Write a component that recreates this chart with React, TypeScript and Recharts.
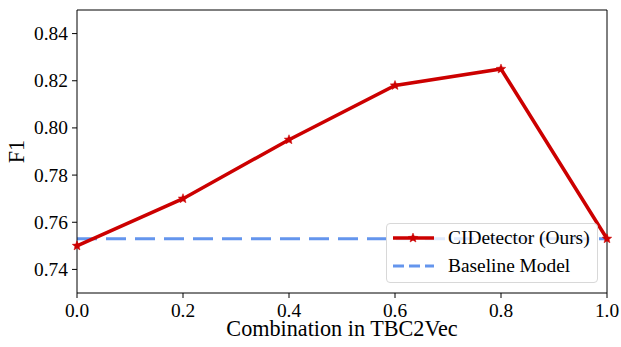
import React from 'react';
import { LineChart, Line, XAxis, YAxis, ReferenceLine } from 'recharts';

const combos = [0, 0.2, 0.4, 0.6, 0.8, 1.0];
const cidetector = [0.75, 0.77, 0.795, 0.818, 0.825, 0.753];
const baseline = [0.753, 0.753, 0.753, 0.753, 0.753, 0.753];
const xTicks = [0, 0.2, 0.4, 0.6, 0.8, 1.0];
const yTicks = [0.74, 0.76, 0.78, 0.8, 0.82, 0.84];

const data = combos.map((c, i) => ({ c, ours: cidetector[i], base: baseline[i] }));

const FONT = '"Liberation Serif", "Times New Roman", serif';
const RED = '#cc0000';
const BLUE = '#6495ed';

function Star({ cx, cy }: { cx?: number; cy?: number }) {
  if (cx == null || cy == null) return null;
  const pts: string[] = [];
  for (let i = 0; i < 10; i++) {
    const r = i % 2 === 0 ? 5 : 2.2;
    const a = -Math.PI / 2 + (i * Math.PI) / 5;
    pts.push(`${cx + r * Math.cos(a)},${cy + r * Math.sin(a)}`);
  }
  return <polygon points={pts.join(' ')} fill={RED} stroke={RED} strokeWidth={0.5} />;
}

function XTick({ x, y, payload }: any) {
  return (
    <text x={x} y={y + 13} textAnchor="middle" fontFamily={FONT} fontSize={19.4} fill="#000">
      {Number(payload.value).toFixed(1)}
    </text>
  );
}

function YTick({ x, y, payload }: any) {
  return (
    <text x={x} y={y + 6.5} textAnchor="end" fontFamily={FONT} fontSize={19.4} fill="#000">
      {Number(payload.value).toFixed(2)}
    </text>
  );
}

function LegendBox() {
  return (
    <div
      style={{
        position: 'absolute',
        left: 386,
        top: 223,
        width: 212,
        height: 60,
        boxSizing: 'border-box',
        border: '1px solid #d8d8d8',
        borderRadius: 4,
        background: 'rgba(255,255,255,0.8)',
        fontFamily: FONT,
        fontSize: 19.4,
        color: '#000',
      }}
    >
      <svg width={50} height={60} style={{ position: 'absolute', left: 0, top: 0 }}>
        <line x1={6} y1={14} x2={47} y2={14} stroke={RED} strokeWidth={3.5} />
        <Star cx={26} cy={14} />
        <line x1={6} y1={42} x2={47} y2={42} stroke={BLUE} strokeWidth={3} strokeDasharray="11 5" />
      </svg>
      <div style={{ position: 'absolute', left: 61, top: 2, lineHeight: '24px', whiteSpace: 'nowrap' }}>CIDetector (Ours)</div>
      <div style={{ position: 'absolute', left: 61, top: 30, lineHeight: '24px', whiteSpace: 'nowrap' }}>Baseline Model</div>
    </div>
  );
}

function YLabel(props: any) {
  const vb = props.viewBox || {};
  const cy = (vb.y ?? 0) + (vb.height ?? 0) / 2;
  return (
    <text
      x={16}
      y={cy}
      transform={`rotate(-90, 16, ${cy})`}
      textAnchor="middle"
      dominantBaseline="central"
      fontFamily={FONT}
      fontSize={22.2}
      fill="#000"
    >
      F1
    </text>
  );
}

function XLabel(props: any) {
  const vb = props.viewBox || {};
  const cx = (vb.x ?? 0) + (vb.width ?? 0) / 2;
  return (
    <text x={cx} y={336} textAnchor="middle" fontFamily={FONT} fontSize={22.2} fill="#000">
      Combination in TBC2Vec
    </text>
  );
}

export default function App() {
  return (
    <div style={{ position: 'absolute', left: 0, top: 0, width: 621, height: 347, background: '#fff', fontFamily: FONT }}>
      <LineChart
        width={621}
        height={347}
        data={data}
        margin={{ top: 10, right: 14, bottom: 0, left: 0 }}
        style={{ fontFamily: FONT }}
      >
        <XAxis
          dataKey="c"
          type="number"
          domain={[0, 1]}
          ticks={xTicks}
          tick={<XTick />}
          stroke="#000"
          height={54}
          tickSize={5}
          tickMargin={6}
          label={{ content: <XLabel /> }}
        />
        <YAxis
          type="number"
          domain={[0.73, 0.85]}
          ticks={yTicks}
          tick={<YTick />}
          stroke="#000"
          width={77}
          tickSize={5}
          tickMargin={4}
          allowDataOverflow
          label={{ content: <YLabel /> }}
        />
        <ReferenceLine y={0.85} stroke="#000" strokeWidth={1} />
        <ReferenceLine x={1} stroke="#000" strokeWidth={1} />
        <Line
          dataKey="base"
          stroke={BLUE}
          strokeWidth={3}
          strokeDasharray="20 9"
          dot={false}
          isAnimationActive={false}
        />
        <Line
          dataKey="ours"
          stroke={RED}
          strokeWidth={3.5}
          dot={<Star />}
          isAnimationActive={false}
        />
      </LineChart>
      <LegendBox />
    </div>
  );
}
